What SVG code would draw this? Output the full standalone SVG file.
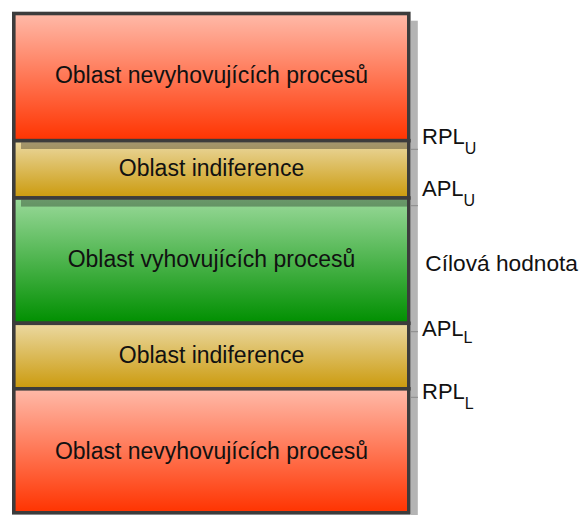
<svg xmlns="http://www.w3.org/2000/svg" width="581" height="515" viewBox="0 0 581 515">
<defs>
<linearGradient id="gRed" x1="0" y1="0" x2="0" y2="1">
<stop offset="0" stop-color="#ffbaa9"/>
<stop offset="1" stop-color="#ff3300"/>
</linearGradient>
<linearGradient id="gYel" x1="0" y1="0" x2="0" y2="1">
<stop offset="0" stop-color="#ebd9a2"/>
<stop offset="1" stop-color="#cb9a0c"/>
</linearGradient>
<linearGradient id="gGrn" x1="0" y1="0" x2="0" y2="1">
<stop offset="0" stop-color="#9ad99a"/>
<stop offset="1" stop-color="#008f00"/>
</linearGradient>
<style>
.band{stroke:#3c3c3c;stroke-width:3.6}
.shadow{fill:#000;fill-opacity:0.3}
.lbl{font-family:"Liberation Sans",Arial,sans-serif;font-size:23px;fill:#111;text-anchor:middle}
.side{font-family:"Liberation Sans",Arial,sans-serif;font-size:22px;fill:#111}
.sub{font-size:16px}
.tick{stroke:#8a8a8a;stroke-width:1}
</style>
</defs>
<g id="scale">
<rect x="411" y="20.7" width="6.8" height="495" fill="#b4b4b4"/>
</g>
<g id="band-red-top">
<rect class="band" x="13.8" y="13.5" width="395" height="127.2" fill="url(#gRed)"/>
<text class="lbl" x="211.5" y="83">Oblast nevyhovujících procesů</text>
</g>
<g id="band-indif-top">
<rect class="band" x="13.8" y="140.7" width="395" height="57.3" fill="url(#gYel)"/>
<rect class="shadow" x="21" y="142.5" width="386" height="6.5"/>
<text class="lbl" x="211.5" y="176">Oblast indiference</text>
</g>
<g id="band-green">
<rect class="band" x="13.8" y="198" width="395" height="125.3" fill="url(#gGrn)"/>
<rect class="shadow" x="21" y="199.8" width="386" height="6.8"/>
<text class="lbl" x="211.5" y="267">Oblast vyhovujících procesů</text>
</g>
<g id="band-indif-bottom">
<rect class="band" x="13.8" y="323.3" width="395" height="65.5" fill="url(#gYel)"/>
<text class="lbl" x="211.5" y="363">Oblast indiference</text>
</g>
<g id="band-red-bottom">
<rect class="band" x="13.8" y="388.8" width="395" height="124" fill="url(#gRed)"/>
<text class="lbl" x="211.5" y="459">Oblast nevyhovujících procesů</text>
</g>
<g id="connectors">
<line class="tick" x1="410" y1="149.3" x2="418" y2="149.3"/>
<line class="tick" x1="410" y1="205.7" x2="418" y2="205.7"/>
<line class="tick" x1="410" y1="331.7" x2="418" y2="331.7"/>
<line class="tick" x1="410" y1="397.3" x2="418" y2="397.3"/>
</g>
<g id="label-rplu"><text class="side" x="422" y="144">RPL<tspan class="sub" dy="9.5">U</tspan></text></g>
<g id="label-aplu"><text class="side" x="422" y="196">APL<tspan class="sub" dy="9.5">U</tspan></text></g>
<g id="label-target"><text class="side" x="425.3" y="271" style="font-size:22.7px">Cílová hodnota</text></g>
<g id="label-apll"><text class="side" x="422" y="336">APL<tspan class="sub" dy="7.3">L</tspan></text></g>
<g id="label-rpll"><text class="side" x="422" y="399.3">RPL<tspan class="sub" dy="10">L</tspan></text></g>
</svg>
